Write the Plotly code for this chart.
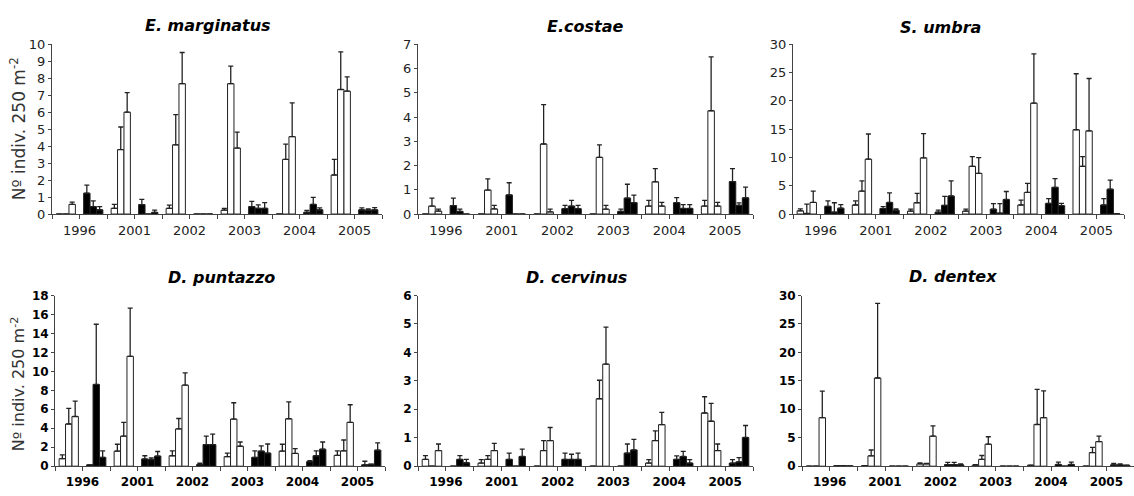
import plotly.graph_objects as go

W, H = 1134, 496

YEARS = ["1996", "2001", "2002", "2003", "2004", "2005"]

# Per year: 3 white bars then 3 black bars (mean values), and the top of each upper error bar
EM_MEAN = [0, 0, 0.57, 1.23, 0.44, 0.25,
           0.34, 3.8, 6.0, 0.56, 0, 0.1,
           0.34, 4.08, 7.68, 0, 0, 0,
           0.23, 7.68, 3.89, 0.44, 0.34, 0.34,
           0, 3.22, 4.56, 0.1, 0.57, 0.25,
           2.3, 7.34, 7.24, 0.25, 0.23, 0.25]
EM_UP = [0, 0, 0.7, 1.7, 0.78, 0.44,
         0.57, 5.13, 7.16, 0.86, 0, 0.23,
         0.52, 5.86, 9.52, 0, 0, 0,
         0.34, 8.72, 4.83, 0.75, 0.54, 0.67,
         0, 4.12, 6.55, 0.21, 0.98, 0.36,
         3.22, 9.56, 8.08, 0.36, 0.3, 0.38]

EC_MEAN = [0, 0.33, 0.12, 0.35, 0.11, 0,
           0, 0.99, 0.21, 0.79, 0, 0,
           0, 2.89, 0.09, 0.22, 0.33, 0.22,
           0, 2.34, 0.2, 0.11, 0.66, 0.47,
           0.33, 1.33, 0.33, 0.47, 0.23, 0.23,
           0.33, 4.26, 0.33, 1.34, 0.36, 0.67]
EC_UP = [0, 0.66, 0.2, 0.66, 0.2, 0,
         0, 1.45, 0.36, 1.29, 0, 0,
         0, 4.51, 0.2, 0.36, 0.56, 0.36,
         0, 2.85, 0.36, 0.2, 1.23, 0.78,
         0.56, 1.87, 0.48, 0.68, 0.39, 0.39,
         0.56, 6.48, 0.48, 1.87, 0.46, 1.11]

SU_MEAN = [0.57, 0.1, 2.05, 1.37, 0.34, 1.03,
           1.6, 4.05, 9.7, 0.97, 2.05, 0.68,
           0.51, 2.0, 9.93, 0.34, 1.54, 3.19,
           0.51, 8.44, 7.19, 0.86, 0.17, 2.57,
           1.6, 3.82, 19.6, 1.88, 4.73, 1.48,
           14.9, 8.44, 14.7, 1.6, 4.39, 0.06]
SU_UP = [0.91, 1.77, 4.05, 2.34, 2.0, 1.65,
         2.34, 5.88, 14.15, 1.31, 3.76, 0.91,
         0.86, 3.65, 14.2, 0.68, 3.14, 5.88,
         0.86, 10.15, 9.98, 1.83, 1.83, 3.99,
         2.45, 5.42, 28.3, 2.74, 6.27, 1.88,
         24.8, 10.15, 23.96, 2.74, 5.99, 0.06]

DP_MEAN = [0.79, 4.45, 5.24, 0.14, 8.62, 0.93,
           1.59, 3.17, 11.59, 0.76, 0.69, 1.07,
           1.1, 3.93, 8.55, 0.17, 2.28, 2.28,
           1.0, 4.97, 2.1, 0.93, 1.59, 1.38,
           1.59, 5.0, 1.34, 0.48, 1.1, 1.79,
           1.14, 1.62, 4.62, 0.14, 0.21, 1.69]
DP_UP = [1.2, 6.1, 6.86, 0.14, 14.97, 1.62,
         2.31, 4.62, 16.66, 1.1, 0.86, 1.55,
         1.62, 5.03, 9.83, 0.31, 3.17, 3.38,
         1.38, 6.69, 2.55, 1.62, 2.14, 2.34,
         2.31, 6.79, 1.86, 0.59, 1.62, 2.55,
         1.62, 2.76, 6.48, 0.52, 0.21, 2.45]

DC_MEAN = [0.24, 0, 0.55, 0, 0.24, 0.12,
           0.11, 0.24, 0.55, 0.24, 0, 0.34,
           0, 0.55, 0.9, 0.24, 0.24, 0.24,
           0, 2.37, 3.59, 0, 0.46, 0.57,
           0.11, 0.9, 1.46, 0.24, 0.34, 0.11,
           1.87, 1.58, 0.55, 0.11, 0.15, 1.01]
DC_UP = [0.37, 0, 0.78, 0, 0.37, 0.24,
         0.23, 0.37, 0.8, 0.46, 0, 0.6,
         0, 0.9, 1.36, 0.46, 0.42, 0.46,
         0, 3.02, 4.89, 0, 0.78, 0.94,
         0.23, 1.24, 1.89, 0.36, 0.52, 0.23,
         2.44, 2.21, 0.78, 0.23, 0.3, 1.43]

DD_MEAN = [0, 0, 8.52, 0.1, 0.1, 0.05,
           0.1, 1.82, 15.5, 0, 0, 0,
           0.4, 0.4, 5.28, 0.28, 0.28, 0.23,
           0.17, 1.2, 3.86, 0, 0, 0,
           0.17, 7.33, 8.52, 0.3, 0, 0.3,
           0, 2.39, 4.32, 0.23, 0.23, 0.17]
DD_UP = [0, 0, 13.2, 0.1, 0.1, 0.05,
         0.1, 2.84, 28.6, 0, 0, 0,
         0.57, 0.5, 7.1, 0.68, 0.68, 0.4,
         0.28, 1.88, 5.17, 0, 0, 0,
         0.17, 13.5, 13.24, 0.7, 0, 0.7,
         0, 3.3, 5.28, 0.5, 0.4, 0.17]

TITLES = ["E. marginatus", "E.costae", "S. umbra", "D. puntazzo", "D. cervinus", "D. dentex"]
YMAX = [10, 7, 30, 18, 6, 30]
DTICK = [1, 1, 5, 2, 1, 5]
YTITLE = "Nº indiv. 250 m<sup>-2</sup>"

panels = [
    dict(title=TITLES[0], mean=EM_MEAN, up=EM_UP, x0=52, x1=382, top=38.5, bot=213.5, row=1, tx=208, ty=19),
    dict(title=TITLES[1], mean=EC_MEAN, up=EC_UP, x0=418, x1=753, top=38.5, bot=213.5, row=1, tx=585, ty=20),
    dict(title=TITLES[2], mean=SU_MEAN, up=SU_UP, x0=793, x1=1124, top=38.5, bot=213.5, row=1, tx=940, ty=21),
    dict(title=TITLES[3], mean=DP_MEAN, up=DP_UP, x0=55, x1=385, top=297.5, bot=473.5, row=2, tx=221, ty=279),
    dict(title=TITLES[4], mean=DC_MEAN, up=DC_UP, x0=418, x1=753, top=297.5, bot=473.5, row=2, tx=576, ty=279),
    dict(title=TITLES[5], mean=DD_MEAN, up=DD_UP, x0=802, x1=1134, top=297.5, bot=473.5, row=2, tx=953, ty=278),
]

fig = go.Figure()
n_sub = 2 * len(YEARS)
label_vals = [2 * j + 0.5 for j in range(len(YEARS))]

annotations = []
layout = {}
for i, p in enumerate(panels):
    ax = "" if i == 0 else str(i + 1)
    bold = p["row"] == 2
    tcol = "#000" if bold else "#222"
    for pos in range(3):
        ys = [p["mean"][g * 3 + pos] for g in range(n_sub)]
        ups = [p["up"][g * 3 + pos] for g in range(n_sub)]
        err = [max(u - y, 0) for u, y in zip(ups, ys)]
        cols = ["white" if g % 2 == 0 else "black" for g in range(n_sub)]
        fig.add_trace(go.Bar(
            x=list(range(n_sub)), y=ys,
            marker=dict(color=cols, line=dict(color="#222", width=1)),
            error_y=dict(type="data", array=err, arrayminus=[0] * n_sub, symmetric=False,
                         color="#222", thickness=1.3, width=2.5),
            xaxis="x" + ax, yaxis="y" + ax, showlegend=False,
            offsetgroup=str(pos),
        ))
    tick_font = dict(family="DejaVu Sans", size=12 if bold else 13, color=tcol,
                     weight="bold" if bold else "normal")
    layout["xaxis" + ax] = dict(
        domain=[p["x0"] / W, p["x1"] / W], anchor="y" + ax,
        range=[-0.5, n_sub - 0.5], tickmode="array", tickvals=label_vals, ticktext=YEARS,
        ticks="outside", ticklen=4, tickcolor="#444", showline=True, linecolor="#444",
        minor=dict(tickmode="linear", tick0=-0.5, dtick=1, ticks="outside", ticklen=4,
                   tickcolor="#444", showgrid=False),
        linewidth=1, showgrid=False, zeroline=False, tickfont=tick_font,
    )
    layout["yaxis" + ax] = dict(
        domain=[1 - p["bot"] / H, 1 - p["top"] / H], anchor="x" + ax,
        range=[0, YMAX[i]], dtick=DTICK[i], tick0=0,
        ticks="outside", ticklen=3, tickcolor="#444", showline=True, linecolor="#444",
        linewidth=1, showgrid=False, zeroline=False, tickfont=tick_font,
    )
    annotations.append(dict(
        text="<b><i>" + p["title"] + "</i></b>", x=p["tx"] / W, y=1 - p["ty"] / H,
        xref="paper", yref="paper", showarrow=False, xanchor="center", yanchor="middle",
        font=dict(family="DejaVu Sans", size=16, color="#000"),
    ))

annotations.append(dict(
    text=YTITLE, x=18 / W, y=1 - 126 / H, xref="paper", yref="paper", showarrow=False,
    textangle=-90, xanchor="center", yanchor="middle",
    font=dict(family="DejaVu Sans", size=17, color="#333"),
))
annotations.append(dict(
    text=YTITLE, x=18 / W, y=1 - 389 / H, xref="paper", yref="paper", showarrow=False,
    textangle=-90, xanchor="center", yanchor="middle",
    font=dict(family="DejaVu Sans", size=16, color="#333"),
))

fig.update_layout(
    width=W, height=H, margin=dict(l=0, r=0, t=0, b=0),
    paper_bgcolor="white", plot_bgcolor="white",
    barmode="group", bargap=0.3, bargroupgap=0,
    annotations=annotations, **layout,
)

fig.write_html("out.html")
